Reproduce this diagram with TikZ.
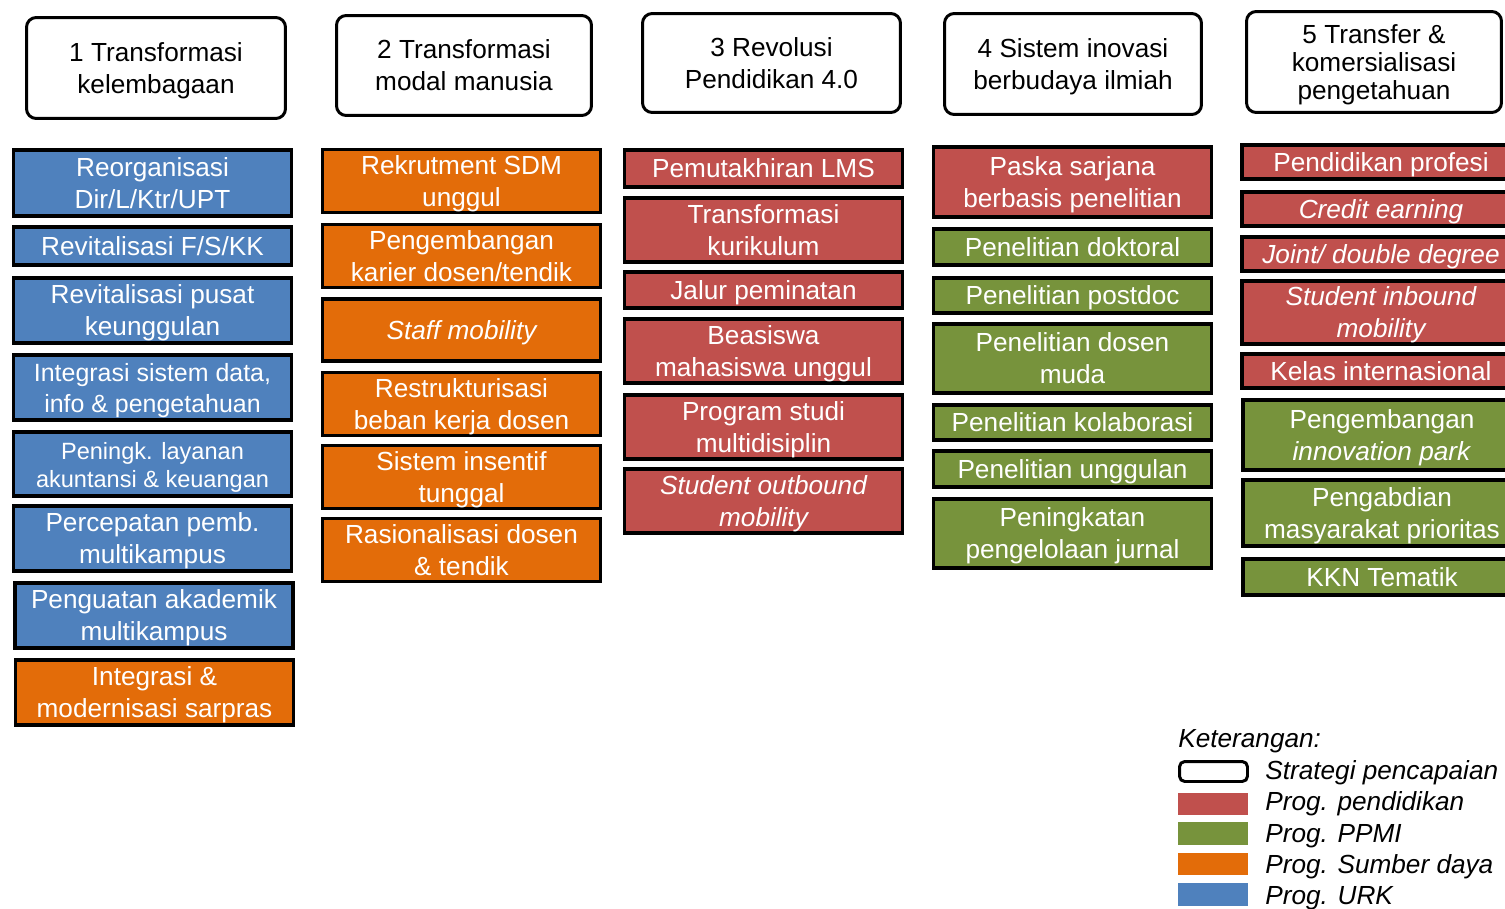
\documentclass[tikz,border=0pt]{standalone}
\usepackage{fontspec}
\setmainfont{Liberation Sans}
\definecolor{urkblue}{HTML}{4F81BD}
\definecolor{pendred}{HTML}{C0504D}
\definecolor{ppmigreen}{HTML}{77933C}
\definecolor{sdorange}{HTML}{E36C09}
\newcommand{\lnstrut}{\rule[-3.5pt]{0pt}{17.7pt}}
\tikzset{
  strut lines/.style={execute at begin node=\lnstrut,execute at end node=\lnstrut},
  strat/.style={draw,line width=1.7pt,rounded corners=5.5pt,fill=white,align=center,inner sep=0pt,
    strut lines,font=\fontsize{14.9}{18.2}\selectfont},
  prog/.style={draw,line width=2pt,text=white,align=center,inner sep=0pt,minimum width=5.57cm,
    strut lines,font=\fontsize{14.9}{18.2}\selectfont},
  urk/.style={prog,fill=urkblue},
  pend/.style={prog,fill=pendred},
  ppmi/.style={prog,fill=ppmigreen},
  sdaya/.style={prog,fill=sdorange},
  keytext/.style={anchor=west,inner sep=0pt,strut lines,font=\fontsize{14.9}{18.2}\selectfont\itshape}
}
\begin{document}
\begin{tikzpicture}[x=0.02cm,y=-0.02cm]
\clip (0,0) rectangle (1505,909);
% strategi pencapaian
\node[strat,minimum width=5.18cm,minimum height=2.02cm] (s1) at (156,68) {\lnstrut 1 Transformasi\\kelembagaan};
\node[strat,minimum width=5.10cm,minimum height=2.00cm] (s2) at (464,65.5) {\lnstrut 2 Transformasi\\modal manusia};
\node[strat,minimum width=5.16cm,minimum height=1.98cm] (s3) at (771.5,63) {\lnstrut 3 Revolusi\\Pendidikan 4.0};
\node[strat,minimum width=5.14cm,minimum height=2.02cm] (s4) at (1073,64) {\lnstrut 4 Sistem inovasi\\berbudaya ilmiah};
\node[strat,minimum width=5.10cm,minimum height=2.02cm,font=\fontsize{14.9}{15.9}\selectfont] (s5) at (1374,62) {\lnstrut 5 Transfer \&\\komersialisasi\\pengetahuan};
% kolom 1
\node[urk,minimum height=1.33cm] (kel1) at (152.5,183) {\lnstrut Reorganisasi\\Dir/L/Ktr/UPT};
\node[urk,minimum height=0.77cm] (kel2) at (152.5,246) {Revitalisasi F/S/KK};
\node[urk,minimum height=1.31cm] (kel3) at (152.5,310.5) {\lnstrut Revitalisasi pusat\\keunggulan};
\node[urk,minimum height=1.31cm,font=\fontsize{14.2}{17.6}\selectfont] (kel4) at (152.5,387.5) {\lnstrut Integrasi sistem data,\\info \& pengetahuan};
\node[urk,minimum height=1.29cm,font=\fontsize{13.4}{15.9}\selectfont] (kel5) at (152.5,464) {\lnstrut Peningk. layanan\\akuntansi \& keuangan};
\node[urk,minimum height=1.31cm] (kel6) at (152.5,538.5) {\lnstrut Percepatan pemb.\\multikampus};
\node[urk,minimum height=1.31cm] (kel7) at (154,615.5) {\lnstrut Penguatan akademik\\multikampus};
\node[sdaya,minimum height=1.31cm] (kel8) at (154.5,692.5) {\lnstrut Integrasi \&\\modernisasi sarpras};
% kolom 2
\node[sdaya,minimum height=1.25cm] (sdm1) at (461.5,181) {\lnstrut Rekrutment SDM\\unggul};
\node[sdaya,minimum height=1.25cm] (sdm2) at (461.5,256) {\lnstrut Pengembangan\\karier dosen/tendik};
\node[sdaya,minimum height=1.25cm] (sdm3) at (461.5,330) {\itshape Staff mobility};
\node[sdaya,minimum height=1.25cm] (sdm4) at (461.5,404) {\lnstrut Restrukturisasi\\beban kerja dosen};
\node[sdaya,minimum height=1.25cm] (sdm5) at (461.5,477) {\lnstrut Sistem insentif\\tunggal};
\node[sdaya,minimum height=1.25cm] (sdm6) at (461.5,550) {\lnstrut Rasionalisasi dosen\\\& tendik};
% kolom 3
\node[pend,minimum height=0.75cm] (rev1) at (763.5,168.5) {Pemutakhiran LMS};
\node[pend,minimum height=1.29cm] (rev2) at (763.5,230) {\lnstrut Transformasi\\kurikulum};
\node[pend,minimum height=0.73cm] (rev3) at (763.5,290) {Jalur peminatan};
\node[pend,minimum height=1.29cm] (rev4) at (763.5,351) {\lnstrut Beasiswa\\mahasiswa unggul};
\node[pend,minimum height=1.29cm] (rev5) at (763.5,427) {\lnstrut Program studi\\multidisiplin};
\node[pend,minimum height=1.29cm,font=\fontsize{14.9}{18.2}\selectfont\itshape] (rev6) at (763.5,501) {\lnstrut Student outbound\\mobility};
% kolom 4
\node[pend,minimum height=1.41cm] (inov1) at (1072.5,182) {\lnstrut Paska sarjana\\berbasis penelitian};
\node[ppmi,minimum height=0.73cm] (inov2) at (1072.5,247) {Penelitian doktoral};
\node[ppmi,minimum height=0.71cm] (inov3) at (1072.5,295.5) {Penelitian postdoc};
\node[ppmi,minimum height=1.39cm] (inov4) at (1072.5,358.5) {\lnstrut Penelitian dosen\\muda};
\node[ppmi,minimum height=0.71cm] (inov5) at (1072.5,422.5) {Penelitian kolaborasi};
\node[ppmi,minimum height=0.73cm] (inov6) at (1072.5,469) {Penelitian unggulan};
\node[ppmi,minimum height=1.39cm] (inov7) at (1072.5,533.5) {\lnstrut Peningkatan\\pengelolaan jurnal};
% kolom 5
\node[pend,minimum height=0.69cm] (trf1) at (1381,162) {Pendidikan profesi};
\node[pend,minimum height=0.69cm] (trf2) at (1381,209) {\itshape Credit earning};
\node[pend,minimum height=0.69cm] (trf3) at (1381,254) {\itshape Joint/ double degree};
\node[pend,minimum height=1.27cm,font=\fontsize{14.9}{18.2}\selectfont\itshape] (trf4) at (1381,312.5) {\lnstrut Student inbound\\mobility};
\node[pend,minimum height=0.69cm] (trf5) at (1381,371) {Kelas internasional};
\node[ppmi,minimum height=1.41cm] (trf6) at (1382,435) {\lnstrut Pengembangan\\\textit{innovation park}};
\node[ppmi,minimum height=1.33cm] (trf7) at (1382,513) {\lnstrut Pengabdian\\masyarakat prioritas};
\node[ppmi,minimum height=0.73cm] (trf8) at (1382,577) {KKN Tematik};
% keterangan
\node[keytext] (ket) at (1178,738) {Keterangan:};
\node[draw,line width=1.7pt,rounded corners=3pt,fill=white,inner sep=0pt,minimum width=1.36cm,minimum height=0.40cm] (key0) at (1213.5,771.5) {};
\node[fill=pendred,inner sep=0pt,minimum width=1.40cm,minimum height=0.44cm] (key1) at (1213,804) {};
\node[fill=ppmigreen,inner sep=0pt,minimum width=1.40cm,minimum height=0.46cm] (key2) at (1213,833.5) {};
\node[fill=sdorange,inner sep=0pt,minimum width=1.40cm,minimum height=0.44cm] (key3) at (1213,864) {};
\node[fill=urkblue,inner sep=0pt,minimum width=1.40cm,minimum height=0.46cm] (key4) at (1213,894.5) {};
\node[keytext] (lab0) at (1265,770) {Strategi pencapaian};
\node[keytext] (lab1) at (1265,801) {Prog. pendidikan};
\node[keytext] (lab2) at (1265,833) {Prog. PPMI};
\node[keytext] (lab3) at (1265,864) {Prog. Sumber daya};
\node[keytext] (lab4) at (1265,895) {Prog. URK};
\end{tikzpicture}
\end{document}
